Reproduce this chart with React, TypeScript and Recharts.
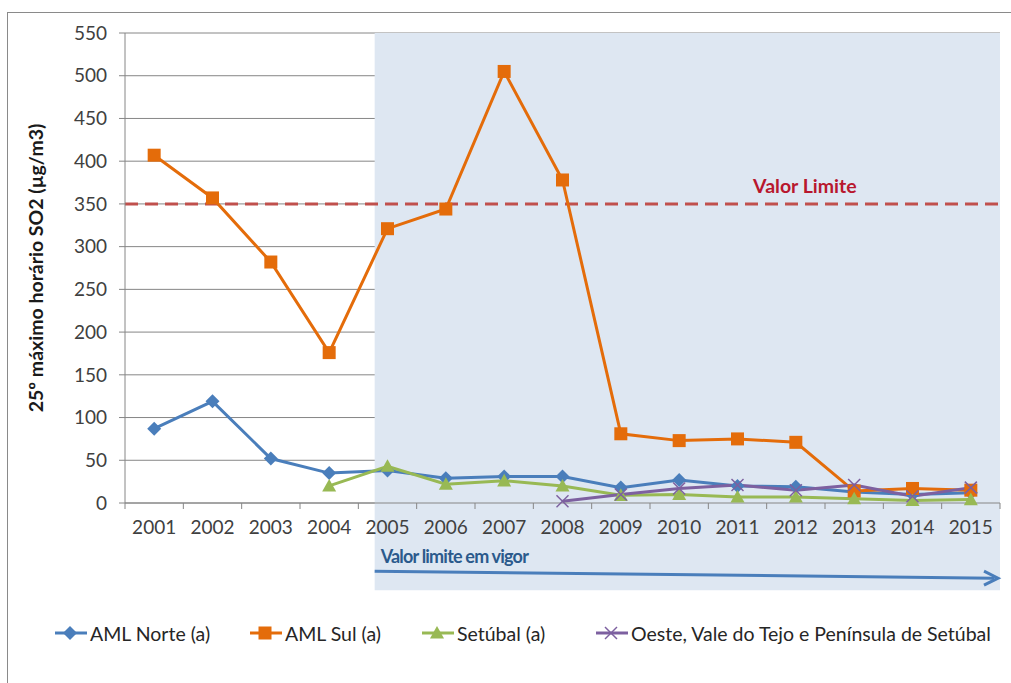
import React from 'react';
import {
  LineChart,
  Line,
  XAxis,
  YAxis,
  CartesianGrid,
  ReferenceArea,
  ReferenceLine,
  Legend,
} from 'recharts';

const years = ['2001', '2002', '2003', '2004', '2005', '2006', '2007', '2008', '2009', '2010', '2011', '2012', '2013', '2014', '2015'];
const amlNorte = [87, 119, 52, 35, 38, 29, 31, 31, 18, 27, 20, 19, 13, 10, 12];
const amlSul = [407, 357, 282, 176, 321, 344, 505, 378, 81, 73, 75, 71, 14, 17, 15];
const setubal: (number | null)[] = [null, null, null, 20, 43, 22, 26, 20, 9, 10, 7, 7, 5, 3, 4];
const oeste: (number | null)[] = [null, null, null, null, null, null, null, 2, 10, 17, 21, 15, 21, 8, 18];
const yTicks = [0, 50, 100, 150, 200, 250, 300, 350, 400, 450, 500, 550];
const valorLimite = 350;
// shaded "in force" period, in category-index units (0 = left edge of 2001, 15 = right edge of 2015)
const shadeFrom = 4.28;
const shadeTo = 15;

const seriesOrder = ['norte', 'sul', 'setubal', 'oeste'];
const seriesNames: Record<string, string> = {
  norte: 'AML Norte (a)',
  sul: 'AML Sul (a)',
  setubal: 'Setúbal (a)',
  oeste: 'Oeste, Vale do Tejo e Península de Setúbal',
};

const colors: Record<string, string> = {
  norte: '#4A7EBB',
  sul: '#E46C0A',
  setubal: '#98B954',
  oeste: '#7D60A0',
};

const data = years.map((y, i) => ({
  year: y,
  idx: i,
  norte: amlNorte[i],
  sul: amlSul[i],
  setubal: setubal[i],
  oeste: oeste[i],
}));

const FONT = 'Lato, "Open Sans", sans-serif';

type Shape = 'diamond' | 'square' | 'triangle' | 'cross';

function markerEl(shape: Shape, cx: number, cy: number, color: string, key?: string) {
  if (shape === 'diamond') {
    const s = 7;
    return <polygon key={key} points={`${cx},${cy - s} ${cx + s},${cy} ${cx},${cy + s} ${cx - s},${cy}`} fill={color} />;
  }
  if (shape === 'square') {
    const s = 6.5;
    return <rect key={key} x={cx - s} y={cy - s} width={2 * s} height={2 * s} fill={color} />;
  }
  if (shape === 'triangle') {
    const s = 7;
    return <polygon key={key} points={`${cx},${cy - s} ${cx + s},${cy + s * 0.8} ${cx - s},${cy + s * 0.8}`} fill={color} />;
  }
  const s = 6;
  return (
    <g key={key}>
      <line x1={cx - s} y1={cy - s} x2={cx + s} y2={cy + s} stroke={color} strokeWidth={1.5} />
      <line x1={cx - s} y1={cy + s} x2={cx + s} y2={cy - s} stroke={color} strokeWidth={1.5} />
    </g>
  );
}

const makeDot = (shape: Shape, color: string) => (props: any) => {
  const { cx, cy, index, value } = props;
  const k = `dot-${shape}-${index}`;
  if (cx == null || cy == null || value == null || (Array.isArray(value) && value[1] == null)) {
    return <g key={k} />;
  }
  return markerEl(shape, cx, cy, color, k);
};

const shapeByKey: Record<string, Shape> = {
  norte: 'diamond',
  sul: 'square',
  setubal: 'triangle',
  oeste: 'cross',
};

const XTick = (props: any) => {
  const { x, y, payload, index, visibleTicksCount } = props;
  const half = payload && typeof payload.offset === 'number' && payload.offset > 0 ? payload.offset : 29.17;
  const last = index === (visibleTicksCount ?? years.length) - 1;
  return (
    <g>
      <line x1={x - half} x2={x - half} y1={y} y2={y + 6} stroke="#868686" strokeWidth={1} />
      {last && <line x1={x + half} x2={x + half} y1={y} y2={y + 6} stroke="#868686" strokeWidth={1} />}
      <text x={x} y={y + 31} textAnchor="middle" fill="#404040" fontSize={19} fontFamily={FONT}>
        {payload.value}
      </text>
    </g>
  );
};

const legendItemWidths: Record<string, number> = { norte: 195, sul: 172, setubal: 174, oeste: 400 };

const LegendContent = (props: any) => {
  const payload = [...(props.payload || [])].sort(
    (a: any, b: any) => seriesOrder.indexOf(a.dataKey) - seriesOrder.indexOf(b.dataKey)
  );
  return (
    <div style={{ display: 'flex', alignItems: 'center', height: 30, paddingLeft: 55, fontFamily: FONT, fontSize: 19.5, color: '#262626', whiteSpace: 'nowrap' }}>
      {payload.map((p: any, i: number) => {
        const key = p.dataKey as string;
        const color = p.color;
        return (
          <div key={i} style={{ display: 'flex', alignItems: 'center', width: legendItemWidths[key], flex: 'none' }}>
            <svg width={32} height={16} style={{ marginRight: 3 }}>
              <line x1={0} y1={8} x2={32} y2={8} stroke={color} strokeWidth={3} />
              {markerEl(shapeByKey[key], 15, 8, color)}
            </svg>
            <span>{p.value}</span>
          </div>
        );
      })}
    </div>
  );
};

const ShadeLabel = (props: any) => {
  const vb = props.viewBox || {};
  const x = vb.x ?? 0;
  const y = vb.y ?? 0;
  const w = vb.width ?? 0;
  const h = vb.height ?? 0;
  const ay1 = y + h - 19;
  const ay2 = y + h - 12;
  const ex = x + w - 2;
  return (
    <g>
      <text x={x + 6} y={y + h - 27} fill="#2B5A8C" fontSize={18} letterSpacing={-0.8} fontWeight="bold" fontFamily={FONT}>
        Valor limite em vigor
      </text>
      <line x1={x} y1={ay1} x2={ex - 4} y2={ay2} stroke="#4A7EBB" strokeWidth={3} />
      <polyline
        points={`${ex - 14},${ay2 - 7} ${ex},${ay2} ${ex - 14},${ay2 + 7}`}
        fill="none"
        stroke="#4A7EBB"
        strokeWidth={3}
      />
    </g>
  );
};

const LimitLabel = (props: any) => {
  const vb = props.viewBox || {};
  const x = vb.x ?? 0;
  const y = vb.y ?? 0;
  const w = vb.width ?? 0;
  return (
    <text x={x + w * 0.777} y={y - 11} textAnchor="middle" fill="#B8172E" fontSize={19.5} fontWeight="bold" fontFamily={FONT}>
      Valor Limite
    </text>
  );
};

const YLabel = (props: any) => {
  const vb = props.viewBox || {};
  const cx = 35;
  const cy = (vb.y ?? 0) + (vb.height ?? 0) / 2;
  return (
    <text
      x={cx}
      y={cy}
      transform={`rotate(-90 ${cx} ${cy})`}
      textAnchor="middle"
      dominantBaseline="central"
      fill="#1a1a1a"
      fontSize={19.5}
      fontWeight="bold"
      fontFamily={FONT}
    >
      25º máximo horário SO2 (µg/m3)
    </text>
  );
};

export default function App() {
  return (
    <div style={{ position: 'absolute', left: 0, top: 0, width: 1011, height: 683, background: '#fff', fontFamily: FONT }}>
      <div
        style={{
          position: 'absolute',
          left: 7,
          top: 12,
          width: 1020,
          height: 700,
          border: '1px solid #8a8a8a',
          boxSizing: 'border-box',
        }}
      />
      <div style={{ position: 'absolute', left: 0, top: 0 }}>
        <LineChart width={1011} height={683} data={data} margin={{ top: 33, right: 11, left: 10, bottom: 20 }}>
          <XAxis xAxisId="pos" dataKey="idx" type="number" domain={[0, 15]} hide allowDataOverflow />
          <ReferenceArea
            xAxisId="pos"
            x1={shadeFrom}
            x2={shadeTo}
            y1={-102}
            y2={550}
            ifOverflow="visible"
            fill="#DEE7F2"
            fillOpacity={1}
            stroke="none"
            label={<ShadeLabel />}
          />
          <CartesianGrid vertical={false} stroke="#868686" strokeWidth={1} />
          <XAxis
            dataKey="year"
            scale="band"
            stroke="#868686"
            tickLine={false}
            tickSize={0}
            tickMargin={0}
            height={130}
            interval={0}
            tick={<XTick />}
          />
          <YAxis
            domain={[0, 550]}
            ticks={yTicks}
            width={115}
            stroke="#868686"
            tickSize={6}
            tickMargin={12}
            tick={{ fill: '#404040', fontSize: 19, fontFamily: FONT }}
            interval={0}
            label={<YLabel />}
          />
          <ReferenceLine
            y={valorLimite}
            stroke="#C0504D"
            strokeWidth={3}
            strokeDasharray="13 7"
            label={<LimitLabel />}
          />
          <Line type="linear" dataKey="norte" name={seriesNames.norte} stroke={colors.norte} strokeWidth={3}
            dot={makeDot('diamond', colors.norte)} activeDot={false} isAnimationActive={false} />
          <Line type="linear" dataKey="sul" name={seriesNames.sul} stroke={colors.sul} strokeWidth={3}
            dot={makeDot('square', colors.sul)} activeDot={false} isAnimationActive={false} />
          <Line type="linear" dataKey="setubal" name={seriesNames.setubal} stroke={colors.setubal} strokeWidth={3}
            dot={makeDot('triangle', colors.setubal)} activeDot={false} isAnimationActive={false} />
          <Line type="linear" dataKey="oeste" name={seriesNames.oeste} stroke={colors.oeste} strokeWidth={3}
            dot={makeDot('cross', colors.oeste)} activeDot={false} isAnimationActive={false} />
          <Legend
            verticalAlign="bottom"
            content={<LegendContent />}
            wrapperStyle={{ left: 0, width: 1011, height: 30, top: 618 }}
          />
        </LineChart>
      </div>
    </div>
  );
}
